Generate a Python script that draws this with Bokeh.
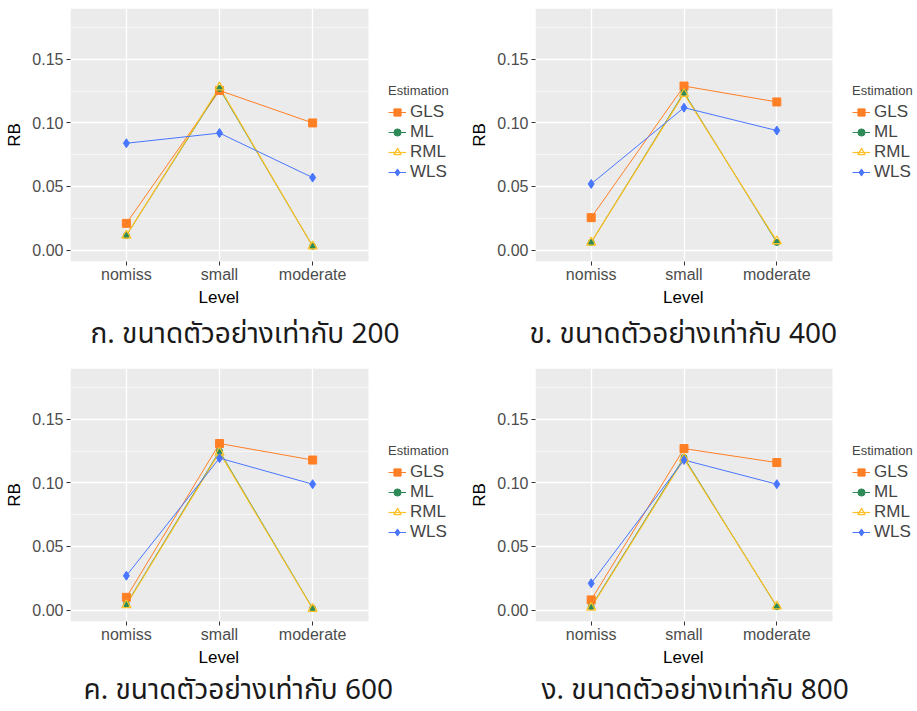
from bokeh.plotting import figure
from bokeh.models import (Range1d, FixedTicker, Legend, LegendItem, Title, BoxAnnotation)
from bokeh.layouts import column, row
from bokeh.embed import file_html
from bokeh.resources import INLINE

# ---------------- data ----------------
levels = ["nomiss", "small", "moderate"]
methods = ["GLS", "ML", "RML", "WLS"]

gls_200 = [0.021, 0.1255, 0.100]
ml_200 = [0.0115, 0.127, 0.003]
rml_200 = [0.0115, 0.128, 0.003]
wls_200 = [0.084, 0.092, 0.057]

gls_400 = [0.0255, 0.129, 0.1165]
ml_400 = [0.006, 0.124, 0.006]
rml_400 = [0.006, 0.123, 0.007]
wls_400 = [0.052, 0.112, 0.094]

gls_600 = [0.010, 0.131, 0.118]
ml_600 = [0.0045, 0.125, 0.0013]
rml_600 = [0.004, 0.124, 0.001]
wls_600 = [0.027, 0.1195, 0.099]

gls_800 = [0.008, 0.127, 0.116]
ml_800 = [0.0026, 0.120, 0.0026]
rml_800 = [0.002, 0.119, 0.003]
wls_800 = [0.021, 0.118, 0.099]

captions = ["ก. ขนาดตัวอย่างเท่ากับ 200", "ข. ขนาดตัวอย่างเท่ากับ 400",
            "ค. ขนาดตัวอย่างเท่ากับ 600", "ง. ขนาดตัวอย่างเท่ากับ 800"]

y_major = [0.0, 0.05, 0.10, 0.15]
y_minor = [0.025, 0.075, 0.125, 0.175]
y_labels = {0.0: "0.00", 0.05: "0.05", 0.1: "0.10", 0.15: "0.15"}

# ---------------- style ----------------
colors = {"GLS": "#FF7F24", "ML": "#2E8B57", "RML": "#FFC125", "WLS": "#4876FF"}
FONT = "Liberation Sans"
THAI = "'Noto Sans Thai', 'Noto Sans Thai UI', 'Noto Sans', sans-serif"

xpos = list(range(1, len(levels) + 1))          # discrete positions of the levels
x_lo, x_hi = 1 - 0.6, len(levels) + 0.6          # ggplot discrete expansion


def make_panel(series, caption, w, h, left, panel_w, top, bottom, cap_offset, cap_standoff):
    fw = w - left
    units_per_px = (x_hi - x_lo) / panel_w
    p = figure(x_range=Range1d(x_lo, x_lo + fw * units_per_px),
               y_range=Range1d(-0.009, 0.19),
               width=w, height=h,
               min_border_left=left, min_border_right=0,
               min_border_top=top, min_border_bottom=bottom,
               output_backend="svg", toolbar_location=None,
               background_fill_color="white", border_fill_color="white")
    p.outline_line_color = None
    # grey plotting panel (ggplot panel.background)
    p.add_layout(BoxAnnotation(left=x_lo, right=x_hi, fill_color="#EBEBEB", fill_alpha=1.0,
                               line_color=None, level="image"))
    p.xgrid.grid_line_color = "white"
    p.xgrid.grid_line_width = 1.3
    p.ygrid.grid_line_color = "white"
    p.ygrid.grid_line_width = 1.3
    p.ygrid.minor_grid_line_color = "white"
    p.ygrid.minor_grid_line_width = 0.6
    p.yaxis.ticker = FixedTicker(ticks=y_major, minor_ticks=y_minor)
    p.yaxis.major_label_overrides = y_labels
    p.xaxis.ticker = FixedTicker(ticks=xpos)
    p.xaxis.major_label_overrides = {i: lv for i, lv in zip(xpos, levels)}
    for ax in (p.xaxis[0], p.yaxis[0]):
        ax.axis_line_color = None
        ax.major_tick_in = 0
        ax.major_tick_out = 4
        ax.major_tick_line_color = "#333333"
        ax.minor_tick_line_color = None
        ax.major_label_text_font = FONT
        ax.major_label_text_font_size = "16px"
        ax.major_label_text_color = "#4D4D4D"
        ax.axis_label_text_font = FONT
        ax.axis_label_text_font_size = "17px"
        ax.axis_label_text_font_style = "normal"
        ax.axis_label_text_color = "black"
    p.xaxis.major_label_standoff = 0
    p.yaxis.major_label_standoff = 3
    p.yaxis.axis_label_standoff = 5
    p.yaxis.axis_label = "RB"

    lines = {}
    for m in methods:
        lines[m] = p.line(xpos, series[m], line_color=colors[m],
                          line_width=1.2 if m == "RML" else 1.0)
    pts = {}
    pts["GLS"] = p.scatter(xpos, series["GLS"], marker="square", size=8,
                           fill_color=colors["GLS"], line_color=colors["GLS"])
    pts["ML"] = p.scatter(xpos, series["ML"], marker="circle", size=6,
                          fill_color=colors["ML"], line_color=colors["ML"])
    pts["RML"] = p.scatter(xpos, series["RML"], marker="triangle", size=9,
                           fill_color=None, line_color=colors["RML"], line_width=1.3)
    pts["WLS"] = p.scatter(xpos, series["WLS"], marker="diamond", size=9,
                           fill_color=colors["WLS"], line_color=colors["WLS"])

    items = [LegendItem(label=m, renderers=[lines[m], pts[m]]) for m in methods]
    leg = Legend(items=items, location=(panel_w + 20, 79), title="Estimation",
                 title_text_font=FONT, title_text_font_size="13px", title_standoff=4,
                 title_text_font_style="normal",
                 label_text_font=FONT, label_text_font_size="17px",
                 glyph_width=18, glyph_height=18, spacing=0, label_standoff=4,
                 padding=0, margin=0, background_fill_alpha=0, border_line_color=None,
                 label_height=18)
    p.add_layout(leg, "center")

    # x-axis title, centred under the grey panel
    lvl = Title(text="Level", align="left", offset=panel_w / 2 - 21, text_font=FONT,
                text_font_size="17px", text_font_style="normal", text_color="black",
                standoff=0)
    p.add_layout(lvl, "below")

    cap = Title(text=caption, align="left", offset=cap_offset, text_font=THAI,
                text_font_size="28px", text_font_style="normal", text_color="#1A1A1A",
                standoff=cap_standoff)
    p.add_layout(cap, "below")
    return p


s200 = {"GLS": gls_200, "ML": ml_200, "RML": rml_200, "WLS": wls_200}
s400 = {"GLS": gls_400, "ML": ml_400, "RML": rml_400, "WLS": wls_400}
s600 = {"GLS": gls_600, "ML": ml_600, "RML": rml_600, "WLS": wls_600}
s800 = {"GLS": gls_800, "ML": ml_800, "RML": rml_800, "WLS": wls_800}

f1 = make_panel(s200, captions[0], 460, 361, 70, 298, 8, 100, 20, 8)
f2 = make_panel(s400, captions[1], 457, 361, 75, 297, 8, 100, -6, 8)
f3 = make_panel(s600, captions[2], 460, 350, 70, 298, 7, 88, 13, 0)
f4 = make_panel(s800, captions[3], 457, 350, 75, 297, 7, 88, 6, 0)

layout = column(row(f1, f2, spacing=0), row(f3, f4, spacing=0), spacing=0)

open("out.html", "w").write(file_html(layout, INLINE))
